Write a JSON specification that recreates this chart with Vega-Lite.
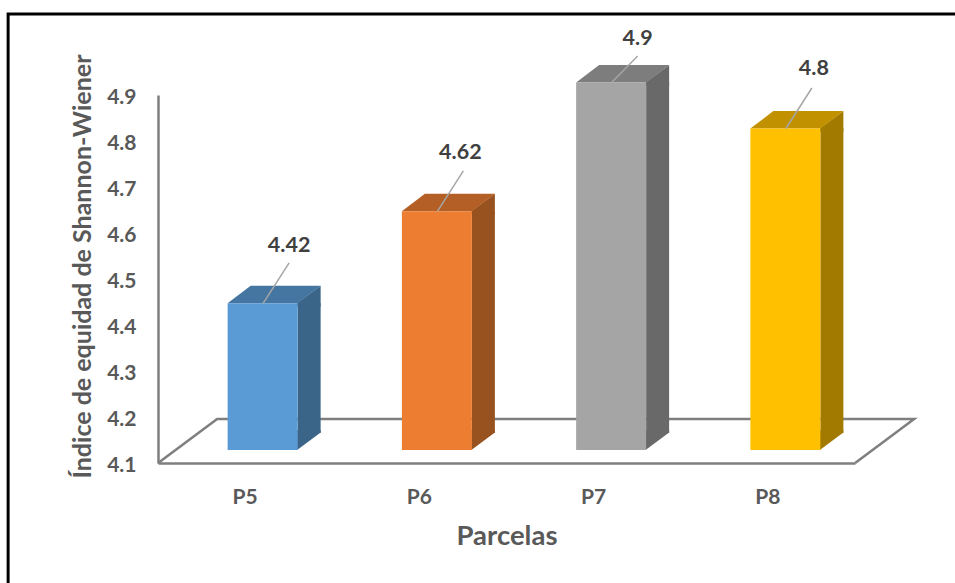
{"$schema":"https://vega.github.io/schema/vega-lite/v6.json","width":697,"height":368,"autosize":"none","padding":{"left":158,"top":95,"right":100,"bottom":120},"background":"white","data":{"values":[{"parcela":"P5","indice":4.42},{"parcela":"P6","indice":4.62},{"parcela":"P7","indice":4.9},{"parcela":"P8","indice":4.8}]},"config":{"view":{"stroke":null},"font":"Lato"},"encoding":{"x":{"field":"parcela","type":"nominal","scale":{"paddingInner":0,"paddingOuter":0},"axis":{"title":"Parcelas","labelAngle":0,"labelFont":"Lato","labelFontWeight":"bold","labelFontSize":21,"labelColor":"#595959","labelPadding":23,"ticks":false,"domainColor":"#7f7f7f","domainWidth":2.5,"titleFont":"Lato","titleFontWeight":"bold","titleFontSize":27.5,"titleColor":"#595959","titleY":73,"titleBaseline":"middle","grid":false}},"y":{"field":"indice","type":"quantitative","scale":{"domain":[4.1,4.9],"nice":false,"zero":false},"axis":{"title":"Índice de equidad de Shannon-Wiener","values":[4.1,4.2,4.3,4.4,4.5,4.6,4.7,4.8,4.9],"format":".1f","labelFont":"Lato","labelFontWeight":"bold","labelFontSize":21,"labelColor":"#595959","labelPadding":22,"labelOffset":2,"ticks":false,"domainColor":"#7f7f7f","domainWidth":2.5,"titleFont":"Lato","titleFontWeight":"bold","titleFontSize":25,"titleColor":"#595959","titleX":-76,"titleY":171,"titleBaseline":"middle","grid":false}}},"layer":[{"transform":[{"filter":"datum.parcela === 'P5'"}],"mark":{"type":"point","shape":"M-237,120 L-237,-449 L720,-449","size":4,"filled":false,"stroke":"#000000","strokeWidth":3,"opacity":1},"encoding":{"y":{"datum":4.1}}},{"transform":[{"filter":"datum.parcela === 'P5'"}],"mark":{"type":"point","shape":"M-87,0 L-28,-44 L669,-44 L610,0","size":4,"filled":false,"stroke":"#7f7f7f","strokeWidth":2.5,"opacity":1},"encoding":{"y":{"datum":4.1}}},{"mark":{"type":"bar","width":23,"xOffset":64,"yOffset":-12.5,"y2Offset":-30},"encoding":{"y2":{"datum":4.1},"color":{"field":"parcela","type":"nominal","legend":null,"scale":{"range":["#3a6488","#97521f","#696969","#a37a00"]}}}},{"mark":{"type":"point","shape":"M52,-12.5 L75.5,-30 L75.5,-9 L52,-9 Z","size":4,"filled":true,"strokeWidth":0,"opacity":1},"encoding":{"color":{"field":"parcela","type":"nominal","legend":null,"scale":{"range":["#3a6488","#97521f","#696969","#a37a00"]}}}},{"mark":{"type":"point","shape":"M52,-13 L75.5,-30.5 L75.5,-33 L52,-33 Z","size":4,"filled":true,"strokeWidth":0,"opacity":1},"encoding":{"y":{"datum":4.1},"color":{"field":"parcela","type":"nominal","legend":null,"scale":{"range":["#3a6488","#97521f","#696969","#a37a00"]}}}},{"mark":{"type":"point","shape":"M-17.5,-12.5 L52.5,-12.5 L75.5,-30 L5.5,-30 Z","size":4,"filled":true,"strokeWidth":0,"opacity":1},"encoding":{"color":{"field":"parcela","type":"nominal","legend":null,"scale":{"range":["#4575a1","#b45f25","#7d7d7d","#c19100"]}}}},{"mark":{"type":"bar","width":70,"xOffset":17.5,"yOffset":-12.5,"y2Offset":-13},"encoding":{"y2":{"datum":4.1},"color":{"field":"parcela","type":"nominal","legend":null,"scale":{"range":["#5b9bd5","#ed7d31","#a5a5a5","#ffc000"]}}}},{"transform":[{"filter":"datum.parcela !== 'P7'"}],"mark":{"type":"point","shape":"M18,-12.5 L44,-53","size":4,"filled":false,"stroke":"#a6a6a6","strokeWidth":1.5,"opacity":1}},{"transform":[{"filter":"datum.parcela === 'P7'"}],"mark":{"type":"point","shape":"M18,-12.5 L44,-39","size":4,"filled":false,"stroke":"#a6a6a6","strokeWidth":1.5,"opacity":1}},{"transform":[{"filter":"datum.parcela === 'P5'"}],"mark":{"type":"text","dx":44,"dy":-70,"font":"Lato","fontWeight":"bold","fontSize":21.5,"color":"#404040"},"encoding":{"text":{"field":"indice","type":"nominal"}}},{"transform":[{"filter":"datum.parcela === 'P6'"}],"mark":{"type":"text","dx":41,"dy":-70.5,"font":"Lato","fontWeight":"bold","fontSize":21.5,"color":"#404040"},"encoding":{"text":{"field":"indice","type":"nominal"}}},{"transform":[{"filter":"datum.parcela === 'P7'"}],"mark":{"type":"text","dx":44,"dy":-56.5,"font":"Lato","fontWeight":"bold","fontSize":21.5,"color":"#404040"},"encoding":{"text":{"field":"indice","type":"nominal"}}},{"transform":[{"filter":"datum.parcela === 'P8'"}],"mark":{"type":"text","dx":46,"dy":-72,"font":"Lato","fontWeight":"bold","fontSize":21.5,"color":"#404040"},"encoding":{"text":{"field":"indice","type":"nominal"}}}],"resolve":{"scale":{"color":"independent"}}}
